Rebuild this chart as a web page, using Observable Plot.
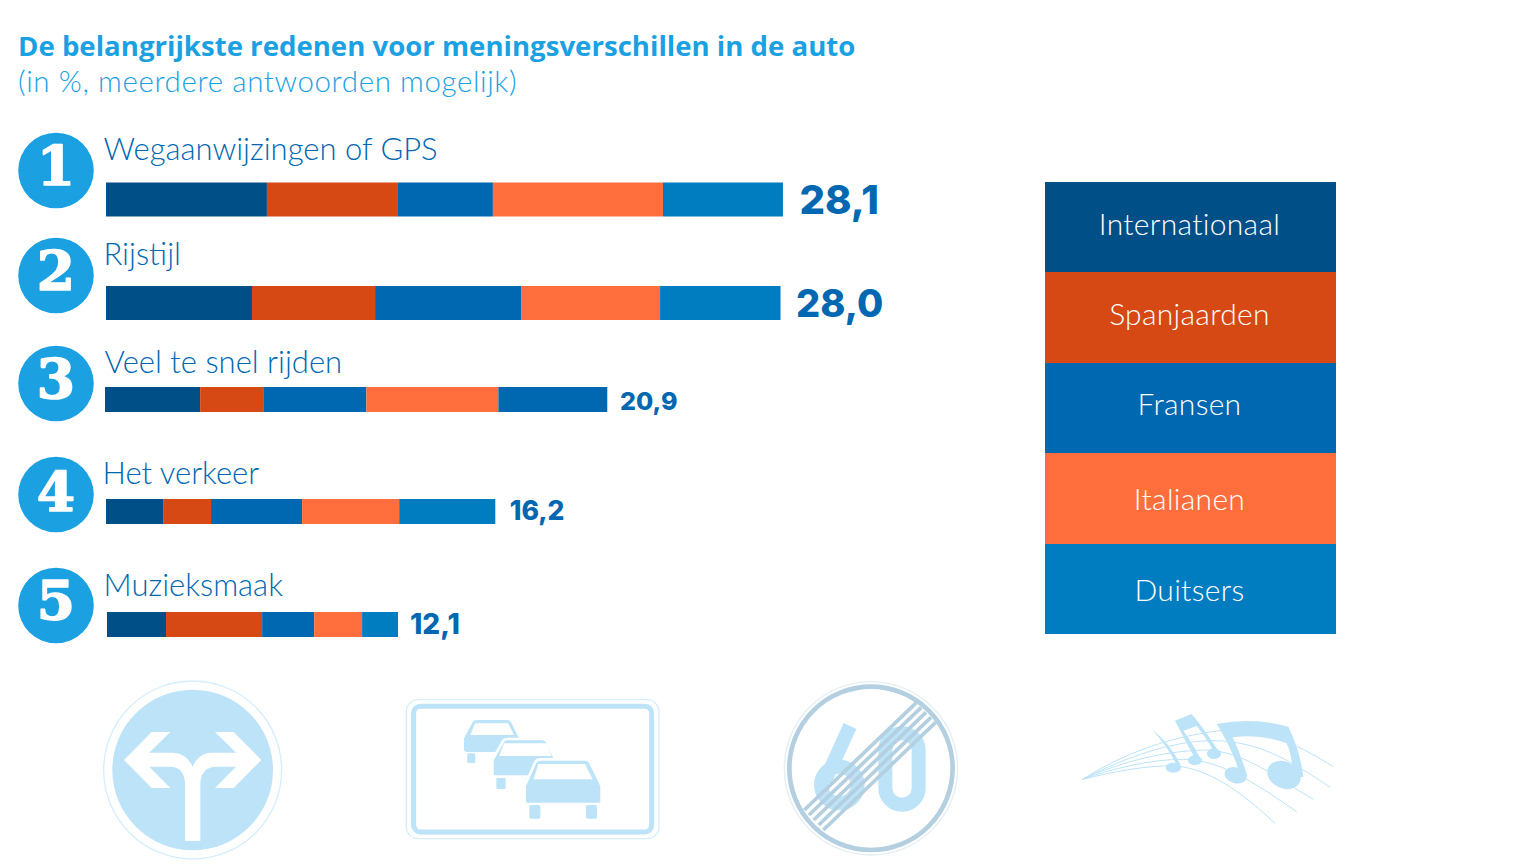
<!DOCTYPE html>
<html lang="nl"><head><meta charset="utf-8">
<script src="https://cdn.jsdelivr.net/npm/d3@7"></script>
<script src="https://cdn.jsdelivr.net/npm/@observablehq/plot@0.6"></script>
<style>
html,body{margin:0;padding:0;background:#fff;width:1540px;height:866px;overflow:hidden}
#wrap{position:relative;width:1540px;height:866px}
#wrap svg{position:absolute;left:0;top:0}
#title{position:absolute;left:18px;top:28.5px;font:700 27.6px/32px "Open Sans",sans-serif;color:#1ba1e2;white-space:nowrap}
#sub{position:absolute;left:18px;top:64px;font:300 29.5px/34px Lato,sans-serif;color:#1ba1e2;letter-spacing:.6px;white-space:nowrap}
#legend{position:absolute;left:1045px;top:182px;width:291px;height:452px;display:flex;flex-direction:column}
#legend div{flex:1;display:flex;align-items:center;justify-content:center;color:#fff;font:300 30px Lato,sans-serif;letter-spacing:.3px}
#legend span{position:relative;left:-1px}
</style></head><body>
<div id="wrap">
<div id="title">De belangrijkste redenen voor meningsverschillen in de auto</div>
<div id="sub">(in %, meerdere antwoorden mogelijk)</div>
<div id="legend"></div>
</div>
<script>
const reasons = ["Wegaanwijzingen of GPS","Rijstijl","Veel te snel rijden","Het verkeer","Muzieksmaak"];
const series = ["Internationaal","Spanjaarden","Fransen","Italianen","Duitsers"];
const colors = ["#004f87","#d64915","#0067b1","#ff6e3c","#007dc0"];
const totals = [28.1,28.0,20.9,16.2,12.1];
const internationaal = [6.68,6.06,3.95,2.37,2.45];
const spanjaarden = [5.44,5.11,2.62,1.99,3.99];
const fransen = [3.94,6.06,4.28,3.78,2.16];
const italianen = [7.06,5.77,5.48,4.03,1.99];
const duitsers = [4.98,5.00,4.52,3.99,1.49];
const columns = [internationaal,spanjaarden,fransen,italianen,duitsers];

// Layout per row (pixels), kept apart from the data
const rowDy = [-0.5,-3,-12.5,-6.5,0.5];
const rowDx = [0,0,-1,0,1];
const barH = [34,34,25,25,25];
const valueSize = [40,38,25,26.5,28];
const valueDx = [16,15,10,13,12];
const valueDy = [1,1,1.5,0,.5];
const labelDx = [-3,-3,-2,-4,-3];
const labelDy = [-50,-48,-37,-38,-39];
const badgeDy = [-29.5,-28,-16.5,-17.5,-19.5];
const rankDy = [-3,-3,-3,-1.5,-3.5];
const legendDy = [-4,-5,-5,0,0];

const rows = reasons.flatMap((reason,i)=>series.map((s,j)=>({
  reason, series:s, value:columns[j][i],
  // in the source the last segment of row 3 uses the "Fransen" blue
  key:(i===2&&j===4)?"Fransen":s
})));
const sum = reasons.map((reason,i)=>({reason,rank:String(i+1),total:totals[i],label:totals[i].toFixed(1).replace(".",",")}));

const step = 24.09;
const W=1540,H=866;

const marks = [];
reasons.forEach((r,i)=>{
  const inset=(106-barH[i])/2;
  marks.push(Plot.barX(rows.filter(d=>d.reason===r),{
    x:"value",y:"reason",fill:"key",order:null,dy:rowDy[i],dx:rowDx[i],insetTop:inset,insetBottom:inset}));
  const s=[sum[i]];
  marks.push(Plot.dot(s,{x:()=>0,y:"reason",r:37.8,fill:"#1ba1e2",dx:-50.5,dy:rowDy[i]+badgeDy[i]}));
  marks.push(Plot.text(s,{x:()=>0,y:"reason",text:"rank",dx:-50.5,dy:rowDy[i]+badgeDy[i]+rankDy[i],fill:"#fff",stroke:"#fff",strokeWidth:1.6,
    fontFamily:"DejaVu Serif",fontWeight:900,fontSize:55}));
  marks.push(Plot.text(s,{x:()=>0,y:"reason",text:"reason",textAnchor:"start",dx:labelDx[i],dy:rowDy[i]+labelDy[i],
    fill:"#0067b1",fontFamily:"Lato",fontWeight:300,fontSize:31}));
  marks.push(Plot.text(s,{x:"total",y:"reason",text:"label",textAnchor:"start",dx:valueDx[i],dy:rowDy[i]+valueDy[i],
    fill:"#0067b1",fontFamily:"Inter",fontWeight:800,fontSize:valueSize[i]}));
});

// Decorative pictograms (not data)
const pale="#bde3f8";
function pictograms(){
  const g=document.createElementNS("http://www.w3.org/2000/svg","g");
  g.setAttribute("aria-label","pictogrammen");
  g.innerHTML=`
  <g transform="translate(90 670) scale(.3333)">
    <circle cx="308" cy="300" r="267" fill="none" stroke="#d6eefb" stroke-width="4"/>
    <circle cx="308" cy="300" r="241" fill="${pale}"/>
    <path fill="#fff" d="M285 513H331V345Q331 290 380 290H440V248H360Q325 250 308 290Q290 250 250 248H175V290H240Q285 290 285 345Z"/>
    <path fill="#fff" d="M102 270L185 186H241L178 248V290L241 354H185Z"/>
    <path fill="#fff" d="M514 270L431 186H375L438 248V290L375 354H431Z"/>
  </g>
  <g transform="translate(390 680) scale(.3333)">
    <rect x="49" y="59" width="758" height="417" rx="36" fill="none" stroke="#d6eefb" stroke-width="4"/>
    <rect x="71" y="79" width="714" height="377" rx="20" fill="#fff" stroke="${pale}" stroke-width="15"/>
    <g fill="${pale}">
      <path d="M222 175L248 126Q250 120 262 120H350Q360 120 363 126L385 172V216H230Q222 216 222 208Z"/>
      <rect x="232" y="220" width="24" height="29" rx="4"/>
      <path fill="#fff" d="M255 130H355L372 165H241Z"/>
      <path stroke="#fff" stroke-width="8" d="M307 240L340 182Q343 177 355 177H455Q465 177 470 183L497 240V290H315Q307 290 307 282Z"/>
      <rect x="319" y="294" width="28" height="33" rx="4"/>
      <path fill="#fff" d="M342 190H470L485 228H328Z"/>
      <path stroke="#fff" stroke-width="8" d="M404 318L436 246Q440 238 452 238H585Q595 238 600 246L635 318V364Q635 372 627 372H412Q404 372 404 364Z"/>
      <rect x="418" y="375" width="33" height="41" rx="5"/>
      <rect x="588" y="375" width="33" height="41" rx="5"/>
      <path fill="#fff" d="M445 252H585L608 298H431Z"/>
    </g>
  </g>
  <g transform="translate(770 670) scale(.3333)">
    <circle cx="303" cy="295" r="260" fill="none" stroke="#e3eef5" stroke-width="4"/>
    <circle cx="303" cy="295" r="245" fill="none" stroke="#b3cfe0" stroke-width="14"/>
    <g fill="none" stroke="${pale}" stroke-width="42">
      <rect x="346" y="190" width="100" height="214" rx="50"/>
      <circle cx="208" cy="345" r="55"/>
      <path d="M240 168L164 335"/>
    </g>
    <g stroke="#b3cfe0" stroke-width="11" fill="none">
      <path d="M103 420L440 97"/><path d="M117 435L454 112"/><path d="M131 450L468 127"/><path d="M146 465L483 142"/><path d="M160 480L497 157"/>
    </g>
  </g>
  <g transform="translate(1070 700) scale(.3333)">
    <g fill="none" stroke="${pale}" stroke-width="3">
      <path d="M38 238C120 185 260 115 450 92C600 85 700 145 790 200"/>
      <path d="M38 238C130 190 280 125 420 122C560 120 660 180 780 262"/>
      <path d="M38 238C130 195 260 155 400 150C520 150 620 235 730 298"/>
      <path d="M38 238C130 205 240 178 340 178C460 180 570 260 680 335"/>
      <path d="M38 238C130 215 230 195 320 198C430 210 530 290 615 370"/>
    </g>
    <g fill="${pale}">
      <path d="M245 88Q300 130 332 195L322 198Q290 135 245 88Z"/>
      <ellipse cx="310" cy="203" rx="23" ry="15"/>
      <path d="M315 62L365 42Q410 95 452 165L440 170Q410 115 380 78L340 92Q375 140 395 185L383 190Q350 130 315 62Z"/>
      <ellipse cx="375" cy="181" rx="21" ry="15"/>
      <ellipse cx="432" cy="161" rx="21" ry="16"/>
      <path d="M440 72Q550 50 655 80Q690 150 700 230L668 235Q670 175 650 130Q570 100 488 112Q515 170 532 228L512 232Q490 150 440 72Z"/>
      <ellipse cx="497" cy="226" rx="34" ry="24" transform="rotate(15 497 226)"/>
      <ellipse cx="642" cy="225" rx="52" ry="40" transform="rotate(25 642 225)"/>
    </g>
  </g>`;
  return g;
}
marks.push(pictograms);

const chart = Plot.plot({
  width:W,height:H,margin:0,
  marginLeft:106,marginTop:147,marginBottom:H-677,marginRight:0,
  style:{background:"transparent"},
  x:{axis:null,domain:[0,(W-106)/step],range:[106,W]},
  y:{axis:null,domain:reasons,padding:0,round:false},
  color:{domain:series,range:colors},
  marks
});
document.getElementById("wrap").prepend(chart);

const legend=document.getElementById("legend");
series.forEach((s,i)=>{
  const d=document.createElement("div");
  const t=document.createElement("span");
  t.textContent=s;t.style.top=legendDy[i]+"px";
  d.append(t);d.style.background=colors[i];legend.append(d);
});
</script>
</body></html>
